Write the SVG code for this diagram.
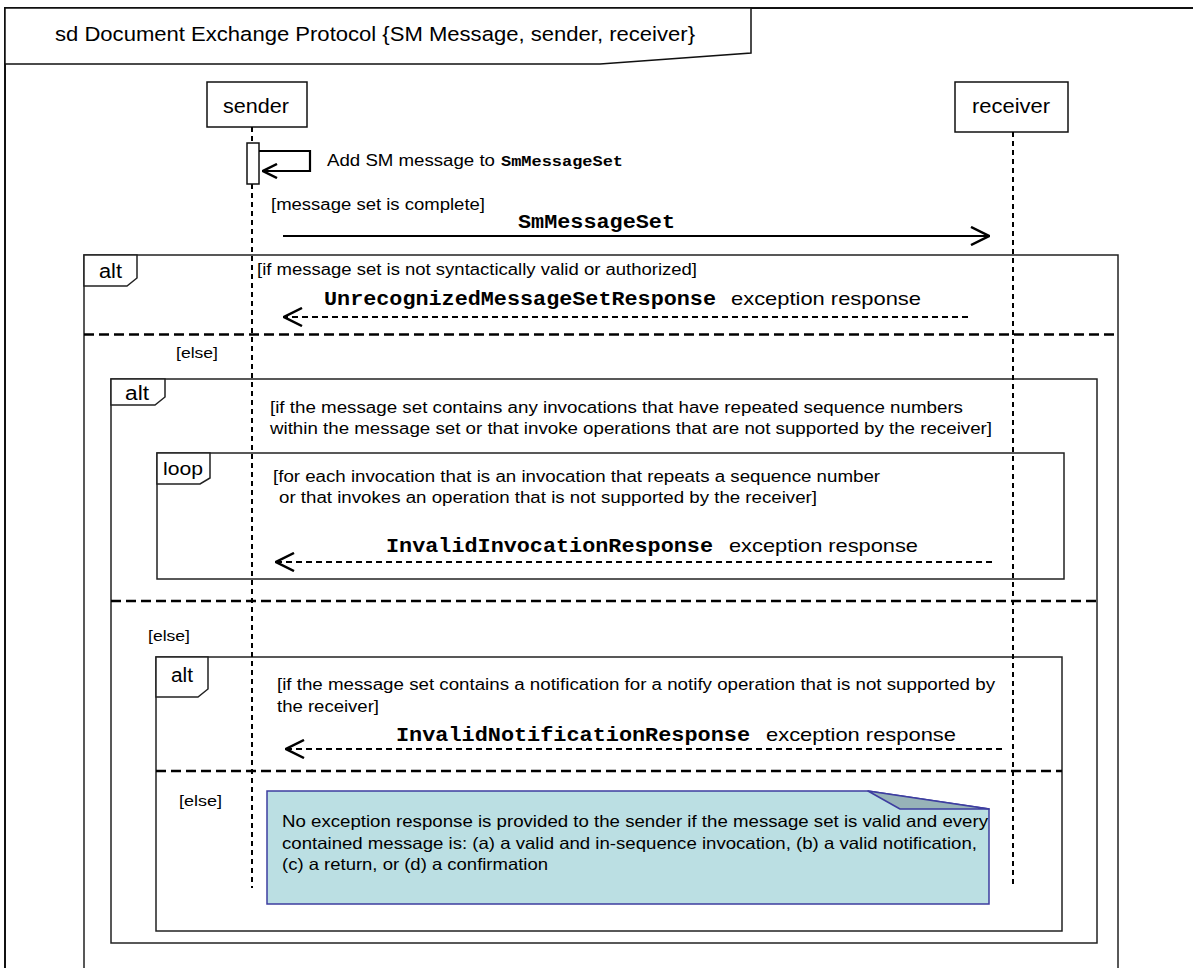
<svg xmlns="http://www.w3.org/2000/svg" width="1193" height="968" viewBox="0 0 1193 968">
<style>
.t{font-family:"Liberation Sans",Arial,sans-serif;fill:#000}
.m{font-family:"Liberation Mono","Courier New",monospace;font-weight:bold;fill:#000}
.frag{fill:none;stroke:#222;stroke-width:1.5}
.tab{fill:#fff;stroke:#222;stroke-width:1.5}
.sep{fill:none;stroke:#000;stroke-width:2.5;stroke-dasharray:10 5}
.life{fill:none;stroke:#000;stroke-width:2;stroke-dasharray:5 4}
.msg{fill:none;stroke:#000;stroke-width:2.2}
.ret{fill:none;stroke:#000;stroke-width:2;stroke-dasharray:6 4}
</style>
<defs>
<marker id="open" viewBox="0 0 20 20" refX="19" refY="10" markerWidth="20" markerHeight="20" markerUnits="userSpaceOnUse" orient="auto">
<path d="M1,1 L19,10 L1,19" fill="none" stroke="#000" stroke-width="2.5" stroke-dasharray="none"/>
</marker>
<marker id="openS" viewBox="0 0 16 16" refX="15" refY="8" markerWidth="16" markerHeight="16" markerUnits="userSpaceOnUse" orient="auto">
<path d="M1,1 L15,8 L1,15" fill="none" stroke="#000" stroke-width="2.5" stroke-dasharray="none"/>
</marker>
</defs>
<rect width="1193" height="968" fill="#fff"/>

<g id="frame">
<path d="M5,968 V8 H1193" fill="none" stroke="#111" stroke-width="2"/>
<path d="M5,8 H751 V53 L600,64 H5 Z" fill="#fff" stroke="#111" stroke-width="1.5"/>
<text class="t" x="55" y="41" font-size="20.5" textLength="640" lengthAdjust="spacingAndGlyphs">sd Document Exchange Protocol {SM Message, sender, receiver}</text>
</g>

<g id="alt-outer">
<rect class="frag" x="84" y="255" width="1034" height="740"/>
<path class="tab" d="M84,255 H137 V278 L127,286 H84 Z"/>
<text class="t" x="99" y="278" font-size="19.5" textLength="23" lengthAdjust="spacingAndGlyphs">alt</text>
<text class="t" x="257" y="275" font-size="16" textLength="440" lengthAdjust="spacingAndGlyphs">[if message set is not syntactically valid or authorized]</text>
<line class="sep" x1="84" y1="334.5" x2="1118" y2="334.5"/>
<text class="t" x="176" y="358" font-size="15.5" textLength="42" lengthAdjust="spacingAndGlyphs">[else]</text>
</g>

<g id="alt-invocations">
<rect class="frag" x="111" y="379" width="986" height="564"/>
<path class="tab" d="M111,379 H165 V397 L155,405 H111 Z"/>
<text class="t" x="125" y="400" font-size="19.5" textLength="24" lengthAdjust="spacingAndGlyphs">alt</text>
<text class="t" x="270" y="413" font-size="16" textLength="693" lengthAdjust="spacingAndGlyphs">[if the message set contains any invocations that have repeated  sequence numbers</text>
<text class="t" x="270" y="434" font-size="16" textLength="722" lengthAdjust="spacingAndGlyphs">within the message set or that invoke operations that are not supported by the receiver]</text>
<line class="sep" x1="111" y1="601" x2="1097" y2="601"/>
<text class="t" x="148" y="641" font-size="15.5" textLength="42" lengthAdjust="spacingAndGlyphs">[else]</text>
</g>

<g id="loop">
<rect class="frag" x="157" y="453" width="907" height="126"/>
<path class="tab" d="M157,453 H210 V478 L200,484 H157 Z"/>
<text class="t" x="163" y="475" font-size="19" textLength="40" lengthAdjust="spacingAndGlyphs">loop</text>
<text class="t" x="273" y="482" font-size="16" textLength="607" lengthAdjust="spacingAndGlyphs">[for each invocation that is an invocation that repeats a sequence number</text>
<text class="t" x="279" y="503" font-size="16" textLength="538" lengthAdjust="spacingAndGlyphs">or that invokes an operation that is not supported by the receiver]</text>
</g>

<g id="alt-notification">
<rect class="frag" x="156" y="657" width="906" height="274"/>
<path class="tab" d="M156,657 H208 V689 L198,697 H156 Z"/>
<text class="t" x="171" y="682" font-size="19.5" textLength="22" lengthAdjust="spacingAndGlyphs">alt</text>
<text class="t" x="277" y="690" font-size="16" textLength="718" lengthAdjust="spacingAndGlyphs">[if the message set contains a notification for a notify operation that is not supported by</text>
<text class="t" x="277" y="712" font-size="16" textLength="102" lengthAdjust="spacingAndGlyphs">the receiver]</text>
<line class="sep" x1="156" y1="771" x2="1062" y2="771"/>
<text class="t" x="179" y="806" font-size="15.5" textLength="43" lengthAdjust="spacingAndGlyphs">[else]</text>
</g>

<g id="sender">
<rect x="207" y="82" width="100" height="45" fill="#fff" stroke="#111" stroke-width="1.5"/>
<text class="t" x="223" y="113" font-size="19.5" textLength="66" lengthAdjust="spacingAndGlyphs">sender</text>
<line class="life" x1="252" y1="127" x2="252" y2="143"/>
<line class="life" x1="252" y1="184" x2="252" y2="888"/>
<rect x="247" y="143" width="12" height="41" fill="#fff" stroke="#111" stroke-width="1.5"/>
</g>

<g id="receiver">
<rect x="955" y="82" width="113" height="50" fill="#fff" stroke="#111" stroke-width="1.5"/>
<text class="t" x="972" y="113" font-size="19.5" textLength="78" lengthAdjust="spacingAndGlyphs">receiver</text>
<line class="life" x1="1013" y1="132" x2="1013" y2="884"/>
</g>

<g id="note">
<path d="M267,791 H868 L989,809 V904 H267 Z" fill="#BBDFE3" stroke="#3E3EA0" stroke-width="1.5"/>
<path d="M868,791 L900,809 L989,809 Z" fill="#97B3B8" stroke="#3E3EA0" stroke-width="1.5" stroke-linejoin="round"/>
<text class="t" x="282" y="827" font-size="16.5" textLength="706" lengthAdjust="spacingAndGlyphs">No exception response is provided to the sender if the message set is valid and every</text>
<text class="t" x="282" y="849" font-size="16.5" textLength="695" lengthAdjust="spacingAndGlyphs">contained message is: (a) a valid and in-sequence invocation, (b) a valid notification,</text>
<text class="t" x="282" y="870" font-size="16.5" textLength="266" lengthAdjust="spacingAndGlyphs">(c) a return, or (d) a confirmation</text>
</g>

<g id="connectors">
<path class="msg" d="M259,151 H310 V171 H263" marker-end="url(#openS)"/>
<text class="t" x="327" y="166" font-size="16" textLength="168" lengthAdjust="spacingAndGlyphs">Add SM message to</text>
<text class="m" x="501" y="166" font-size="15" textLength="122" lengthAdjust="spacingAndGlyphs">SmMessageSet</text>

<line class="msg" x1="283" y1="236" x2="989" y2="236" marker-end="url(#open)"/>
<text class="t" x="271" y="210" font-size="16" textLength="214" lengthAdjust="spacingAndGlyphs">[message set is complete]</text>
<text class="m" x="518" y="228" font-size="20" textLength="157" lengthAdjust="spacingAndGlyphs">SmMessageSet</text>

<line class="ret" x1="968" y1="317" x2="284" y2="317" marker-end="url(#open)"/>
<text class="m" x="324" y="305" font-size="20" textLength="392" lengthAdjust="spacingAndGlyphs">UnrecognizedMessageSetResponse</text>
<text class="t" x="731" y="305" font-size="19" textLength="190" lengthAdjust="spacingAndGlyphs">exception response</text>

<line class="ret" x1="992" y1="562" x2="276" y2="562" marker-end="url(#open)"/>
<text class="m" x="386" y="552" font-size="20" textLength="327" lengthAdjust="spacingAndGlyphs">InvalidInvocationResponse</text>
<text class="t" x="729" y="552" font-size="19" textLength="189" lengthAdjust="spacingAndGlyphs">exception response</text>

<line class="ret" x1="1002" y1="749" x2="286" y2="749" marker-end="url(#open)"/>
<text class="m" x="396" y="741" font-size="20" textLength="354" lengthAdjust="spacingAndGlyphs">InvalidNotificationResponse</text>
<text class="t" x="766" y="741" font-size="19" textLength="190" lengthAdjust="spacingAndGlyphs">exception response</text>
</g>
</svg>
